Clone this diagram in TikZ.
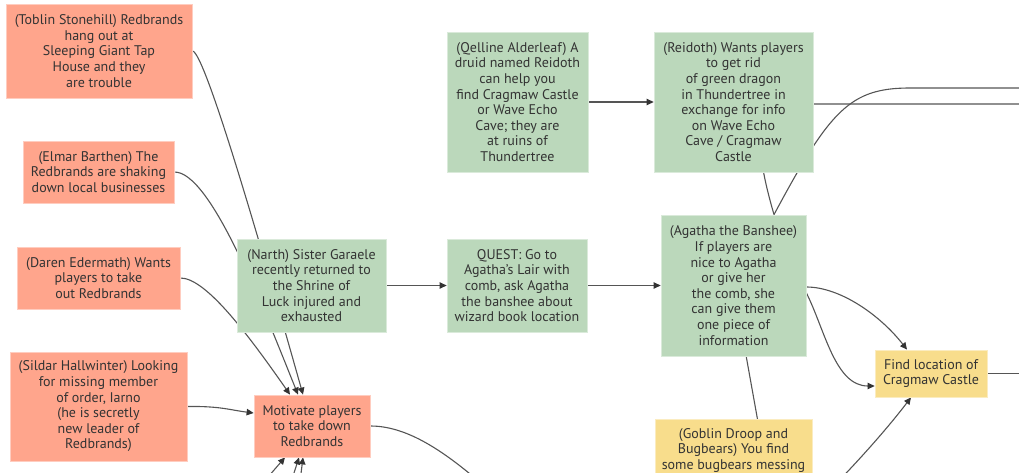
\documentclass[tikz,border=0pt]{standalone}
\usepackage{fontspec}
\setmainfont{PT Sans}
\usetikzlibrary{arrows.meta,backgrounds}
\definecolor{npcred}{HTML}{FFA58C}
\definecolor{leadgreen}{HTML}{BBD8BB}
\definecolor{goalyellow}{HTML}{F8DD8C}
\definecolor{linkgray}{HTML}{555555}
\definecolor{textgray}{HTML}{333333}
\tikzset{
  card/.style={draw=#1!55!white,fill=#1,line width=0.8pt,align=center,inner sep=0pt,
    text=textgray,font=\fontsize{14}{15.6}\selectfont},
  npc/.style={card=npcred},
  lead/.style={card=leadgreen},
  goal/.style={card=goalyellow},
  boxsize/.style 2 args={minimum width=#1pt,minimum height=#2pt},
  link/.style={draw=linkgray,line width=1.1pt,-{Triangle[length=7pt,width=6.5pt,color=textgray]}}
}

\begin{document}
\begin{tikzpicture}[x=1pt,y=-1pt]
  \useasboundingbox (0,0) rectangle (1019,473);
  \clip (0,0) rectangle (1019,473);

  \node[npc,boxsize={186}{94}] (toblin) at (99,51)
    {(Toblin Stonehill) Redbrands\\hang out at\\Sleeping Giant Tap\\House and they\\are trouble};
  \node[npc,boxsize={151}{62}] (elmar) at (98.5,172)
    {(Elmar Barthen) The\\Redbrands are shaking\\down local businesses};
  \node[npc,boxsize={163}{62}] (daren) at (98.5,278)
    {(Daren Edermath) Wants\\players to take\\out Redbrands};
  \node[npc,boxsize={177}{109}] (sildar) at (98.5,406.5)
    {(Sildar Hallwinter) Looking\\for missing member\\of order, Iarno\\(he is secretly\\new leader of\\Redbrands)};
  \node[lead,boxsize={149}{93}] (narth) at (311.5,285.5)
    {(Narth) Sister Garaele\\recently returned to\\the Shrine of\\Luck injured and\\exhausted};
  \node[lead,boxsize={140}{93}] (quest) at (517,285.5)
    {QUEST: Go to\\Agatha's Lair with\\comb, ask Agatha\\the banshee about\\wizard book location};
  \node[npc,boxsize={116}{62}] (motivate) at (312,426)
    {Motivate players\\to take down\\Redbrands};
  \node[lead,boxsize={141}{140}] (qelline) at (517.5,102)
    {(Qelline Alderleaf) A\\druid named Reidoth\\can help you\\find Cragmaw Castle\\or Wave Echo\\Cave; they are\\at ruins of\\Thundertree};
  \node[lead,boxsize={159}{140}] (reidoth) at (733.5,102)
    {(Reidoth) Wants players\\to get rid\\of green dragon\\in Thundertree in\\exchange for info\\on Wave Echo\\Cave / Cragmaw\\Castle};
  \node[lead,boxsize={145}{141}] (agatha) at (733.5,285.5)
    {(Agatha the Banshee)\\If players are\\nice to Agatha\\or give her\\the comb, she\\can give them\\one piece of\\information};
  \node[goal,boxsize={112}{47}] (find) at (931,373.5)
    {Find location of\\Cragmaw Castle};
  \node[goal,boxsize={157}{62},anchor=north] (goblin) at (733.5,419)
    {(Goblin Droop and\\Bugbears) You find\\some bugbears messing};

  \coordinate (below1) at (255,492);
  \coordinate (below2) at (286,498);
  \coordinate (below3) at (298,498);
  \coordinate (motivateout) at (500,500);
  \coordinate (rightA) at (1040,104);
  \coordinate (rightB) at (1040,88);
  \coordinate (findout) at (1040,373.5);
  \coordinate (findin) at (820,500);
  \coordinate (gobbelow) at (772,500);

  \begin{scope}[on background layer]
    \draw[link] (toblin.east) .. controls (205,51) and (265,260) .. ([xshift=-9pt]motivate.north);
    \draw[link] (elmar.east) .. controls (210,172) and (260,300) .. ([xshift=-14pt]motivate.north);
    \draw[link] (daren.east) .. controls (205,278) and (245,330) .. ([xshift=-22pt]motivate.north);
    \draw[link] (sildar.east) .. controls (220,406) and (230,410) .. ([yshift=13pt]motivate.west);
    \draw[link] (below1) -- ([xshift=-27pt]motivate.south);
    \draw[link] (below2) -- ([xshift=-13pt]motivate.south);
    \draw[link] (below3) -- ([xshift=-9pt]motivate.south);
    \draw[link] (motivate.east) .. controls (410,426) and (450,455) .. (motivateout);
    \draw[link] (narth) -- (quest);
    \draw[link] (quest) -- (agatha);
    \draw[link] (qelline) -- (reidoth);
    \draw[link] ([xshift=40.5pt]agatha.north) .. controls (745,115) and (765,104) .. (813,104) -- (rightA);
    \draw[link] ([xshift=40.5pt]agatha.north) .. controls (830,110) and (850,88) .. (910,88) -- (rightB);
    \draw[link] ([yshift=-1.5pt]agatha.east) .. controls (840,287) and (880,315) .. ([xshift=-24pt]find.north);
    \draw[link] ([yshift=-7.5pt]agatha.east) .. controls (825,330) and (835,386) .. ([yshift=-12.5pt]find.west);
    \draw[link] (agatha) -- (gobbelow);
    \draw[link] (find) -- (findout);
    \draw[link] (findin) .. controls (860,460) and (890,425) .. ([xshift=-20pt]find.south);
  \end{scope}
\end{tikzpicture}
\end{document}
